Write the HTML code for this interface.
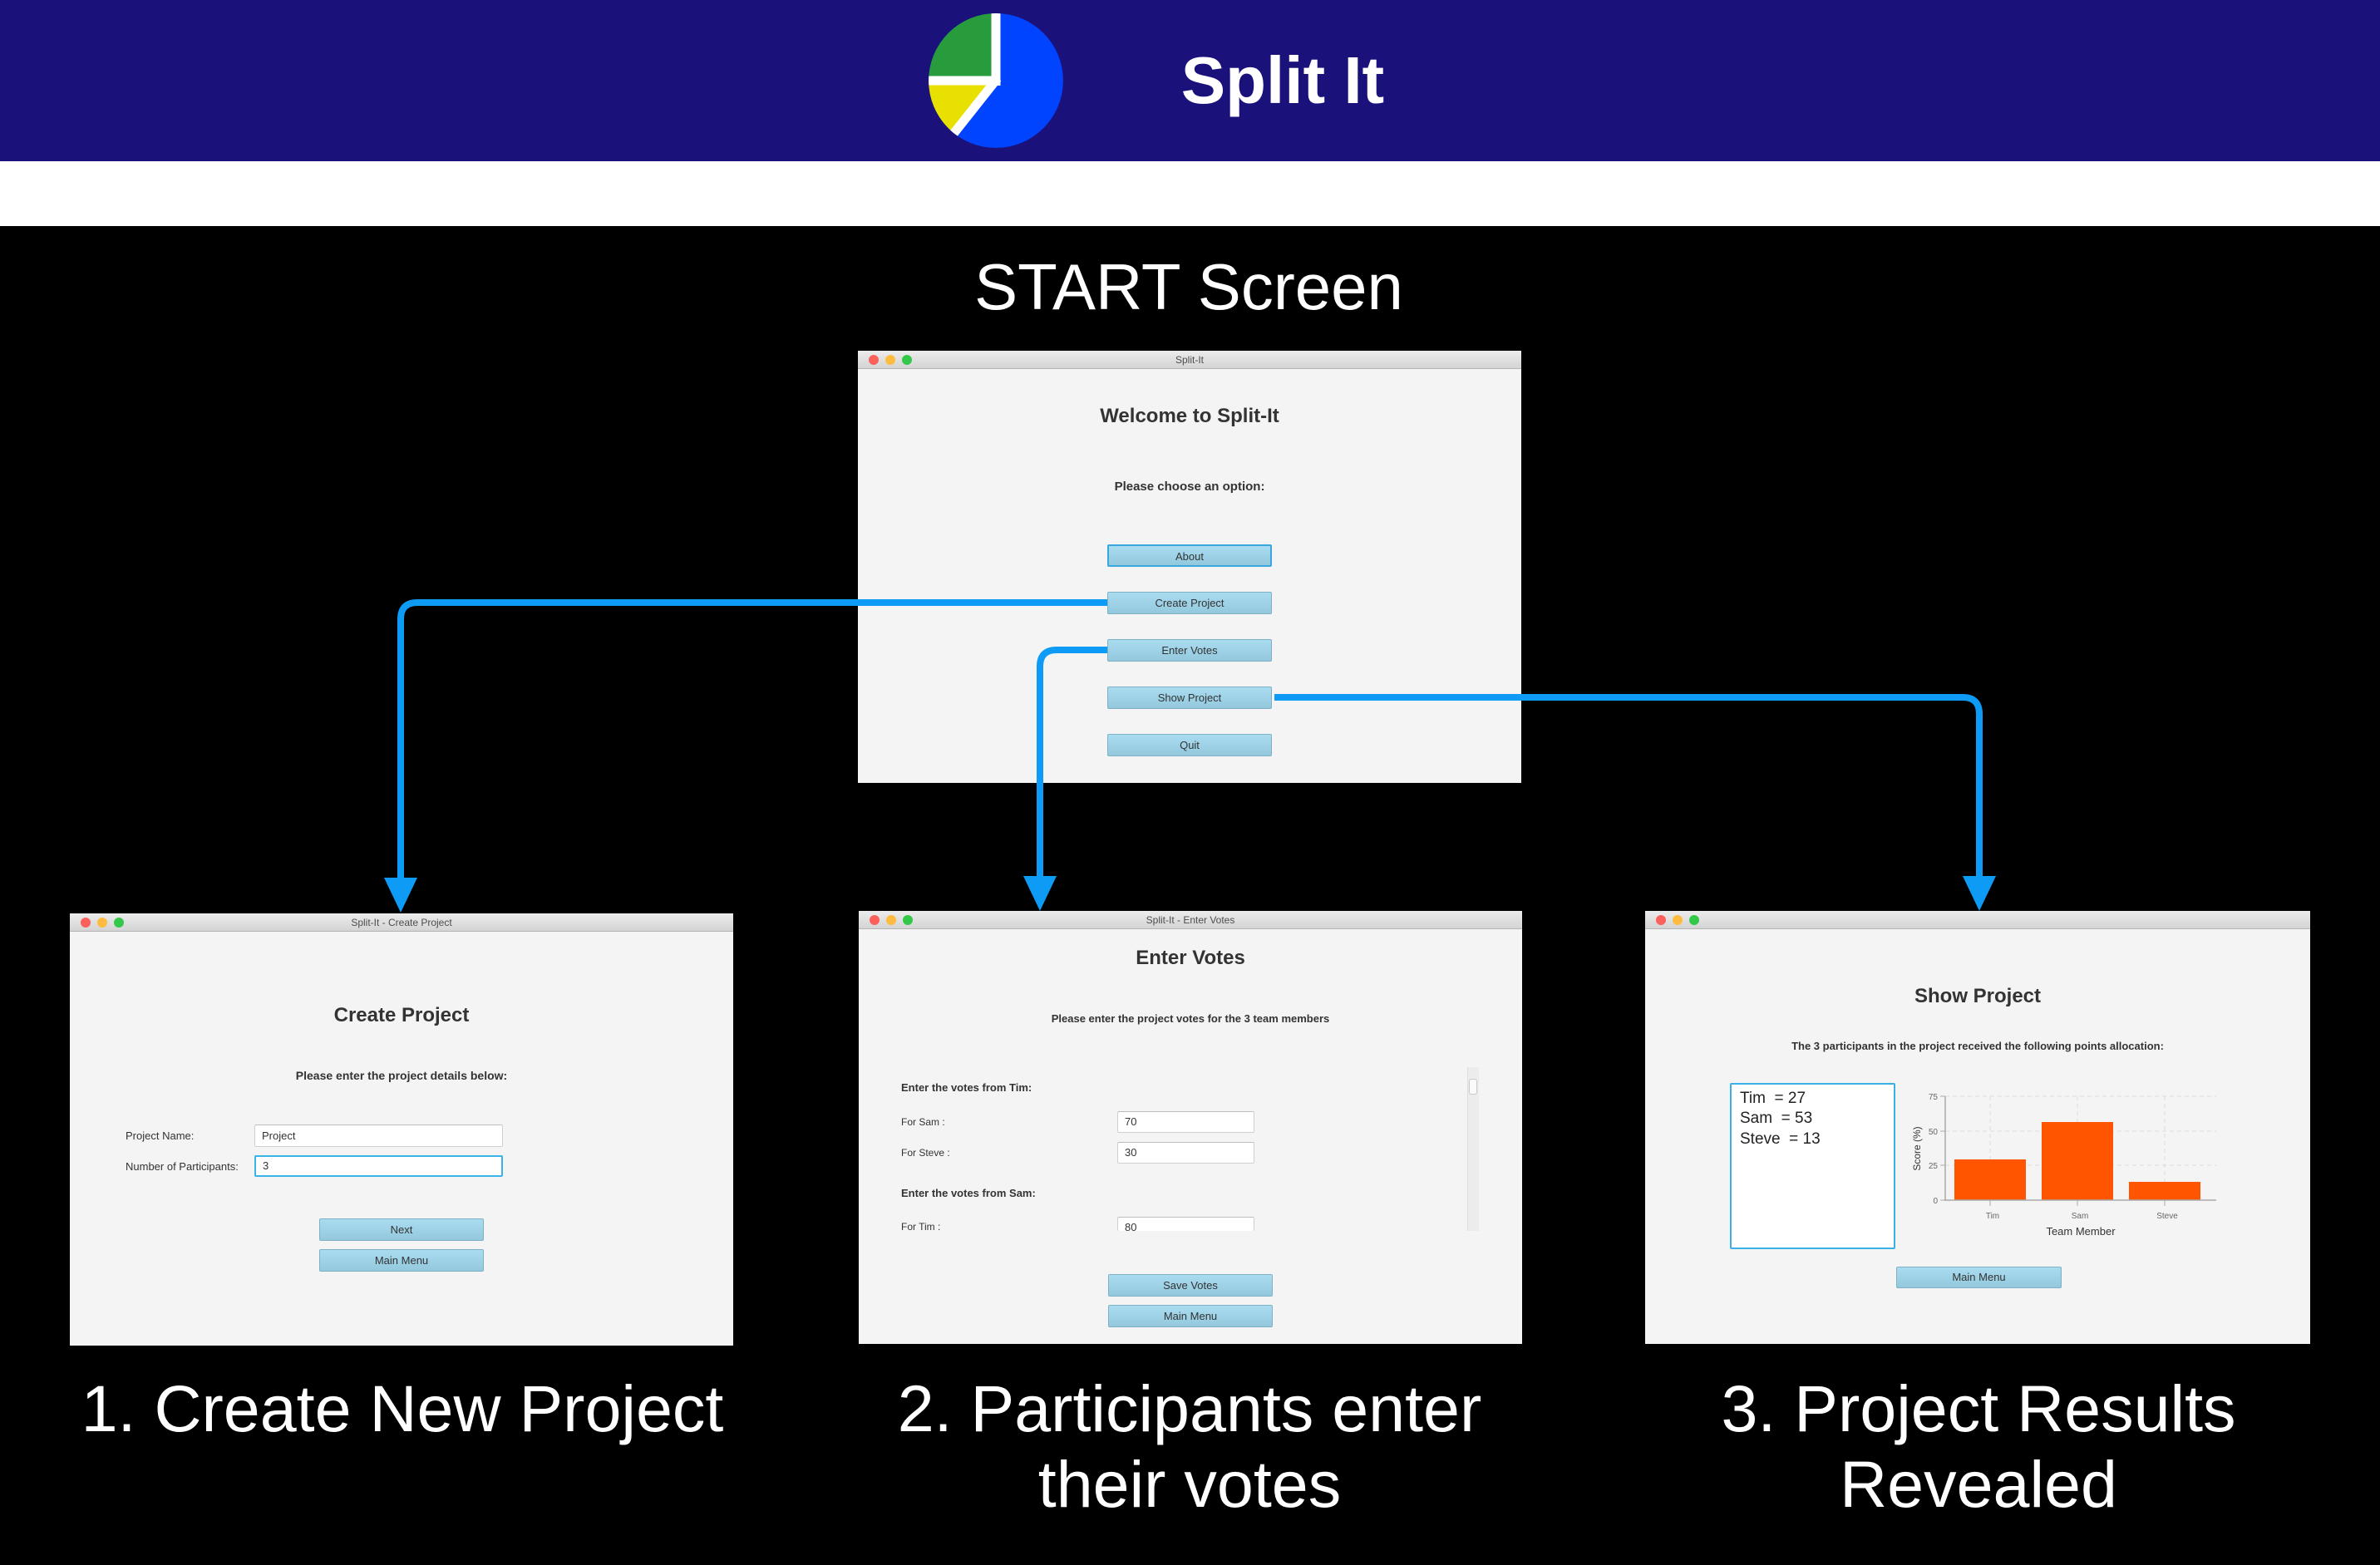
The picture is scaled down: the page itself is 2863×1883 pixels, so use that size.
<!DOCTYPE html>
<html><head><meta charset="utf-8"><style>
*{margin:0;padding:0;box-sizing:border-box}
body{width:2863px;height:1883px;background:#000;position:relative;overflow:hidden;font-family:"Liberation Sans",Arial,sans-serif;color:#333}
.abs{position:absolute}
.win{position:absolute;background:#f4f4f4;overflow:hidden}
.tb{position:absolute;left:0;top:0;right:0;height:22px;background:linear-gradient(#ececec,#d4d4d4);border-bottom:1px solid #b5b5b5;text-align:center;font-size:12px;line-height:22px;color:#4d4d4d}
.dot{position:absolute;top:5px;width:12px;height:12px;border-radius:50%}
.d1{left:13px;background:#fc605b}.d2{left:33px;background:#fdbc40}.d3{left:53px;background:#34c84a}
.t{position:absolute;line-height:1;white-space:nowrap}
.c{left:0;right:0;text-align:center}
.h{font-size:24px;font-weight:bold;color:#333}
.s{font-weight:bold;color:#333}
.btn{position:absolute;background:linear-gradient(#aadcf0,#93c8dd);border:1px solid #7fb0c6;border-radius:2px;text-align:center;font-size:13px;color:#333}
.fld{position:absolute;background:#fff;border:1px solid #cfcfcf;border-top-color:#bdbdbd;border-radius:2px;font-size:13px;padding-left:8px;color:#333}
.lbl{font-size:13px;color:#333}
.big{position:absolute;color:#fff;font-size:79px;line-height:1;text-align:center;white-space:nowrap}
</style></head><body>
<div class="abs" style="left:0;top:0;width:2863px;height:194px;background:#1b117a"></div>
<div class="abs" style="left:0;top:194px;width:2863px;height:78px;background:#fff"></div>
<div class="t" style="left:1380px;top:57px;font-size:80px;font-weight:bold;color:#fff;width:326px;text-align:center">Split It</div>
<div class="t" style="left:1030px;top:306px;font-size:78px;color:#fff;width:800px;text-align:center">START Screen</div>

<div class="win" style="left:1032px;top:422px;width:798px;height:520px">
<div class="tb"><span class="dot d1"></span><span class="dot d2"></span><span class="dot d3"></span>Split-It</div>
<div class="t c h" style="top:67px">Welcome to Split-It</div>
<div class="t c s" style="top:156px;font-size:15px">Please choose an option:</div>
<div class="btn" style="left:300px;top:233px;width:198px;height:27px;line-height:25px;border:2px solid #3aa6de">About</div>
<div class="btn" style="left:300px;top:290px;width:198px;height:27px;line-height:25px">Create Project</div>
<div class="btn" style="left:300px;top:347px;width:198px;height:27px;line-height:25px">Enter Votes</div>
<div class="btn" style="left:300px;top:404px;width:198px;height:27px;line-height:25px">Show Project</div>
<div class="btn" style="left:300px;top:461px;width:198px;height:27px;line-height:25px">Quit</div>
</div>

<div class="win" style="left:84px;top:1099px;width:798px;height:520px">
<div class="tb"><span class="dot d1"></span><span class="dot d2"></span><span class="dot d3"></span>Split-It - Create Project</div>
<div class="t c h" style="top:111px">Create Project</div>
<div class="t c s" style="top:188px;font-size:14px">Please enter the project details below:</div>
<div class="t lbl" style="left:67px;top:261px">Project Name:</div>
<div class="fld" style="left:222px;top:254px;width:299px;height:27px;line-height:25px">Project</div>
<div class="t lbl" style="left:67px;top:298px">Number of Participants:</div>
<div class="fld" style="left:222px;top:291px;width:299px;height:26px;line-height:22px;border:2px solid #3ab4e6">3</div>
<div class="btn" style="left:300px;top:367px;width:198px;height:27px;line-height:25px">Next</div>
<div class="btn" style="left:300px;top:404px;width:198px;height:27px;line-height:25px">Main Menu</div>
</div>

<div class="win" style="left:1033px;top:1096px;width:798px;height:521px">
<div class="tb"><span class="dot d1"></span><span class="dot d2"></span><span class="dot d3"></span>Split-It - Enter Votes</div>
<div class="t c h" style="top:45px">Enter Votes</div>
<div class="t c s" style="top:123px;font-size:13px">Please enter the project votes for the 3 team members</div>
<div class="t s" style="left:51px;top:206px;font-size:13px">Enter the votes from Tim:</div>
<div class="t lbl" style="left:51px;top:248px;font-size:12px">For Sam :</div>
<div class="fld" style="left:311px;top:241px;width:165px;height:26px;line-height:24px">70</div>
<div class="t lbl" style="left:51px;top:285px;font-size:12px">For Steve :</div>
<div class="fld" style="left:311px;top:278px;width:165px;height:26px;line-height:24px">30</div>
<div class="t s" style="left:51px;top:333px;font-size:13px">Enter the votes from Sam:</div>
<div class="t lbl" style="left:51px;top:374px;font-size:12px">For Tim :</div>
<div class="fld" style="left:311px;top:368px;width:165px;height:17px;line-height:24px;border-bottom:none;overflow:hidden">80</div>
<div class="abs" style="left:732px;top:188px;width:14px;height:197px;background:#ececec;border-left:1px solid #ddd"></div>
<div class="abs" style="left:734px;top:202px;width:10px;height:19px;background:#fafafa;border:1px solid #c8c8c8;border-radius:3px"></div>
<div class="btn" style="left:300px;top:437px;width:198px;height:27px;line-height:25px">Save Votes</div>
<div class="btn" style="left:300px;top:474px;width:198px;height:27px;line-height:25px">Main Menu</div>
</div>

<div class="win" style="left:1979px;top:1096px;width:800px;height:521px">
<div class="tb"><span class="dot d1"></span><span class="dot d2"></span><span class="dot d3"></span></div>
<div class="t c h" style="top:91px">Show Project</div>
<div class="t c s" style="top:156px;font-size:13px">The 3 participants in the project received the following points allocation:</div>
<div class="abs" style="left:102px;top:207px;width:199px;height:200px;background:#fff;border:2px solid #3ab0e8;border-radius:2px"></div>
<div class="t" style="left:114px;top:216px;font-size:19px;color:#222">Tim&nbsp; = 27</div>
<div class="t" style="left:114px;top:240px;font-size:19px;color:#222">Sam&nbsp; = 53</div>
<div class="t" style="left:114px;top:265px;font-size:19px;color:#222">Steve&nbsp; = 13</div>
<div class="btn" style="left:302px;top:428px;width:199px;height:26px;line-height:24px">Main Menu</div>
</div>

<svg class="abs" style="left:0;top:0" width="2863" height="1883" viewBox="0 0 2863 1883">
<defs><clipPath id="pc"><circle cx="1198" cy="97" r="81"/></clipPath></defs>
<g clip-path="url(#pc)">
<circle cx="1198" cy="97" r="81" fill="#0044ff"/>
<path d="M1198,97 L1198,16 A81,81 0 0 0 1117,97 Z" fill="#289c3c"/>
<path d="M1198,97 L1117,97 A81,81 0 0 0 1147,160 Z" fill="#e8e000"/>
<g stroke="#fff" stroke-width="11">
<line x1="1198" y1="103" x2="1198" y2="10"/>
<line x1="1203" y1="97" x2="1110" y2="97"/>
<line x1="1200" y1="94" x2="1143" y2="166"/>
</g>
</g>
<g stroke="#ddd" stroke-width="1" stroke-dasharray="5,4">
<line x1="2340" y1="1319" x2="2666" y2="1319"/>
<line x1="2340" y1="1361" x2="2666" y2="1361"/>
<line x1="2340" y1="1402" x2="2666" y2="1402"/>
<line x1="2394" y1="1319" x2="2394" y2="1444"/>
<line x1="2499" y1="1319" x2="2499" y2="1444"/>
<line x1="2604" y1="1319" x2="2604" y2="1444"/>
</g>
<rect x="2351" y="1395" width="86" height="49" fill="#ff5500"/>
<rect x="2456" y="1350" width="86" height="94" fill="#ff5500"/>
<rect x="2561" y="1422" width="86" height="22" fill="#ff5500"/>
<line x1="2340" y1="1319" x2="2340" y2="1445" stroke="#aaa" stroke-width="1.5"/>
<line x1="2340" y1="1444" x2="2666" y2="1444" stroke="#aaa" stroke-width="1.5"/>
<g stroke="#aaa" stroke-width="1"><line x1="2334" y1="1319" x2="2340" y2="1319"/><line x1="2334" y1="1361" x2="2340" y2="1361"/><line x1="2334" y1="1402" x2="2340" y2="1402"/><line x1="2334" y1="1444" x2="2340" y2="1444"/>
<line x1="2394" y1="1444" x2="2394" y2="1451"/><line x1="2499" y1="1444" x2="2499" y2="1451"/><line x1="2604" y1="1444" x2="2604" y2="1451"/></g>
<g font-family="Liberation Sans, sans-serif" font-size="10" fill="#666" text-anchor="end">
<text x="2331" y="1323">75</text><text x="2331" y="1365">50</text><text x="2331" y="1406">25</text><text x="2331" y="1448">0</text></g>
<g font-family="Liberation Sans, sans-serif" font-size="10" fill="#666" text-anchor="middle">
<text x="2397" y="1466">Tim</text><text x="2502" y="1466">Sam</text><text x="2607" y="1466">Steve</text></g>
<text x="2503" y="1486" font-family="Liberation Sans, sans-serif" font-size="13" fill="#333" text-anchor="middle">Team Member</text>
<text transform="translate(2310,1382) rotate(-90)" font-family="Liberation Sans, sans-serif" font-size="12" fill="#333" text-anchor="middle">Score (%)</text>
<g fill="none" stroke="#0d9bf5" stroke-width="8">
<path d="M1332,725 H502 Q482,725 482,745 V1062"/>
<path d="M1332,782 H1271 Q1251,782 1251,802 V1060"/>
<path d="M1533,839 H2361 Q2381,839 2381,859 V1060"/>
</g>
<g fill="#0d9bf5">
<polygon points="462,1056 502,1056 482,1098"/>
<polygon points="1231,1054 1271,1054 1251,1096"/>
<polygon points="2361,1054 2401,1054 2381,1096"/>
</g>
</svg>

<div class="big" style="left:-16px;top:1655px;width:1000px">1. Create New Project</div>
<div class="big" style="left:931px;top:1655px;width:1000px">2. Participants enter</div>
<div class="big" style="left:931px;top:1746px;width:1000px">their votes</div>
<div class="big" style="left:1880px;top:1655px;width:1000px">3. Project Results</div>
<div class="big" style="left:1880px;top:1746px;width:1000px">Revealed</div>
</body></html>
